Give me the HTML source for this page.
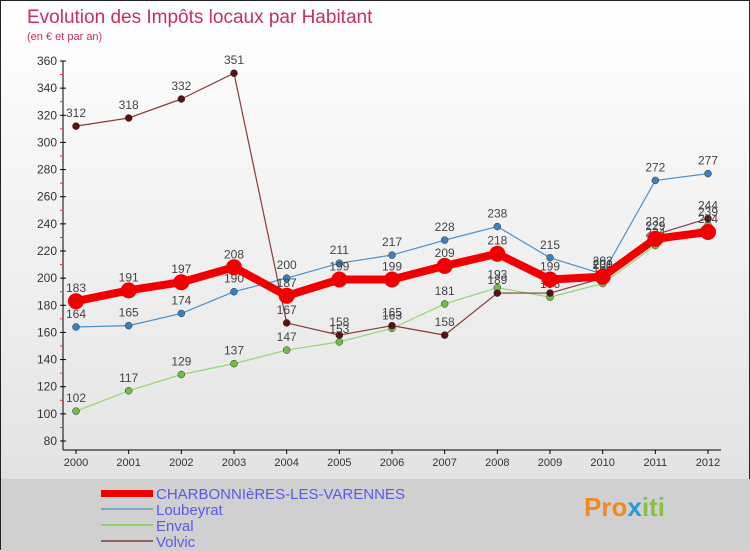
<!DOCTYPE html>
<html><head><meta charset="utf-8"><style>
body{margin:0;width:750px;height:550px;overflow:hidden;font-family:"Liberation Sans",sans-serif}
#wrap{position:relative;width:748px;height:548px;border:1px solid #222;background:linear-gradient(#fff 0%,#e4e4e4 85%,#d0d0d0 100%)}
svg{position:absolute;left:0;top:0}
</style></head><body>
<div id="wrap">
<svg id="c" width="750" height="550">
<text x="26" y="22" font-size="19" fill="#c8305a">Evolution des Impôts locaux par Habitant</text>
<text x="26" y="39" font-size="11" fill="#c8305a">(en € et par an)</text>
<rect x="0" y="478" width="750" height="72" fill="#d0d0d0"/>
<g><text x="583" y="515" font-size="26" font-weight="bold" fill="#f08a20">Pro<tspan fill="#2a9ad8">x</tspan><tspan fill="#8ac040">iti</tspan></text></g>
</svg>
</div>
<script>
const years=[2000,2001,2002,2003,2004,2005,2006,2007,2008,2009,2010,2011,2012];
const yTicks=[80,100,120,140,160,180,200,220,240,260,280,300,320,340,360];
const charb=[183,191,197,208,187,199,199,209,218,199,201,229,234];
const loub=[164,165,174,190,200,211,217,228,238,215,203,272,277];
const enval=[102,117,129,137,147,153,163,181,193,186,196,224,239];
const volvic=[312,318,332,351,167,158,165,158,189,189,200,232,244];
const seriesNames=["CHARBONNIèRES-LES-VARENNES","Loubeyrat","Enval","Volvic"];
const NS="http://www.w3.org/2000/svg";
const svg=document.getElementById('c');
const X=i=>75+i*(707-75)/(years.length-1);
const Y=v=>440-(v-80)*380/280;
function mk(t,a,p){const e=document.createElementNS(NS,t);for(const k in a)e.setAttribute(k,a[k]);(p||svg).appendChild(e);return e;}
const ax=mk('g',{});


mk('line',{x1:62,y1:Y(360),x2:62,y2:449,stroke:'#000'},ax);
mk('line',{x1:62,y1:449,x2:720,y2:449,stroke:'#000'},ax);
yTicks.forEach(v=>{
 mk('line',{x1:59,x2:65,y1:Y(v),y2:Y(v),stroke:'#000'},ax);
 if(v<360) mk('line',{x1:59,x2:62,y1:Y(v+10),y2:Y(v+10),stroke:'#e33'},ax);
 const t=mk('text',{x:56,y:Y(v)+4,'font-size':12,fill:'#333','text-anchor':'end'},ax);t.textContent=v;
 
 
});
years.forEach((yr,i)=>{
 mk('line',{x1:X(i),x2:X(i),y1:449,y2:453,stroke:'#000'},ax);
 const t=mk('text',{x:X(i),y:465,'font-size':11,fill:'#333','text-anchor':'middle'},ax);t.textContent=yr;
 
 
});
const defs=[[loub,'#4a90c8','#3a80c0',1.2,3.5],[enval,'#90d870','#70c040',1.2,3.5],[volvic,'#8a3a3a','#5a1010',1.2,3.5],[charb,'#f00000','#f00000',8,8]];
const order=[0,1,2,3];
const nm=['loubeyrat','enval','volvic','charbonnieres'];
defs.forEach((d,k)=>{
 const g=mk('g',{});
 
 
 mk('polyline',{points:d[0].map((v,i)=>X(i)+','+Y(v)).join(' '),fill:'none',stroke:d[1],'stroke-width':d[3],'stroke-linejoin':'round'},g);
 d[0].forEach((v,i)=>{
  const c=mk('circle',{cx:X(i),cy:Y(v),r:d[4],fill:d[2],stroke:k<3?'#333':'none','stroke-width':0.5},g);
  
  
  const t=mk('text',{x:X(i),y:Y(v)-9,'font-size':12,fill:'#444','text-anchor':'middle'},g);t.textContent=v;
  
  
 });
});
const lc=['#f00000','#80a8c8','#90d070','#906060'];
seriesNames.forEach((n,k)=>{
 const g=mk('g',{});
 
 
 const y=492+k*16;
 mk('rect',{x:100,y:y-(k==0?3:1),width:52,height:k==0?7:2,fill:lc[k]},g);
 const t=mk('text',{x:155,y:y+6,'font-size':15,fill:'#5a5ae8'},g);t.textContent=n;
});
</script>
</body></html>
